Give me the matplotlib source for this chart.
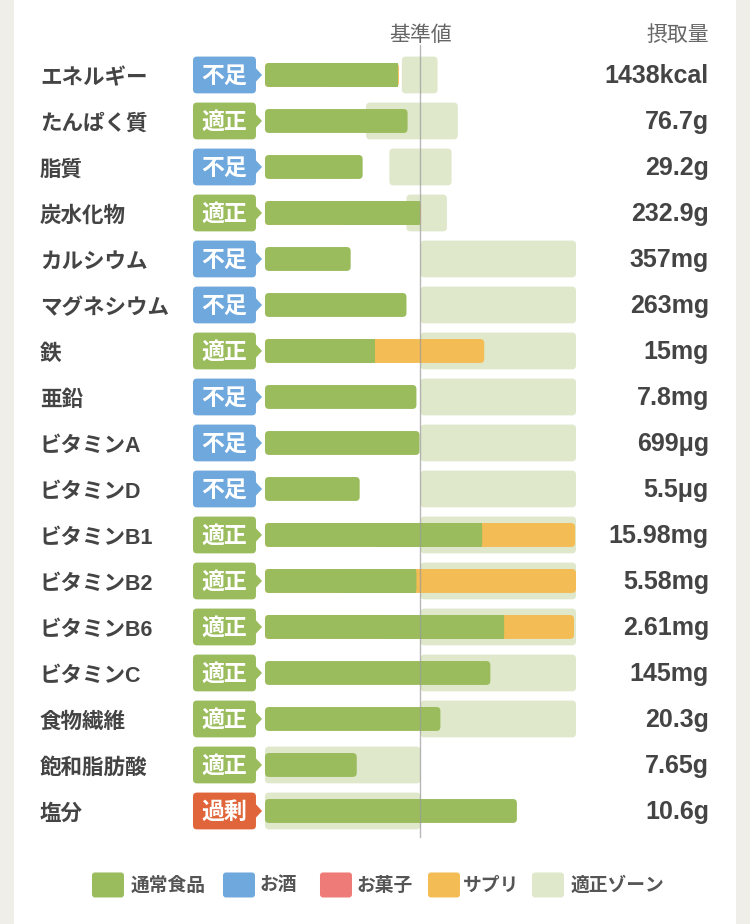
import matplotlib
matplotlib.use('Agg')
import matplotlib.pyplot as plt
from matplotlib.patches import FancyBboxPatch, Rectangle, Polygon

plt.rcParams['font.family'] = ['Noto Sans CJK JP', 'DejaVu Sans']

# --- data (percent of the reference value, 基準値 = 100) ---
nutrients = ['エネルギー', 'たんぱく質', '脂質', '炭水化物', 'カルシウム', 'マグネシウム',
             '鉄', '亜鉛', 'ビタミンA', 'ビタミンD', 'ビタミンB1', 'ビタミンB2',
             'ビタミンB6', 'ビタミンC', '食物繊維', '飽和脂肪酸', '塩分']
status = ['不足', '適正', '不足', '適正', '不足', '不足', '適正', '不足', '不足', '不足',
          '適正', '適正', '適正', '適正', '適正', '適正', '過剰']
food = [85.3, 91.7, 62.8, 99.4, 55.1, 91.0, 70.5, 97.4, 99.4, 60.9,
        139.7, 97.4, 153.8, 144.9, 112.8, 59.0, 162.0]
supplement = [0.8, 0, 0, 0.8, 0, 0, 70.5, 0, 0, 0,
              59.7, 102.6, 44.9, 0, 0, 0, 0]
zone_low = [88, 65, 80, 91, 100, 100, 100, 100, 100, 100,
            100, 100, 100, 100, 100, 0, 0]
zone_high = [111, 124, 120, 117, 200, 200, 200, 200, 200, 200,
             200, 200, 200, 200, 200, 100, 100]
intake = ['1438kcal', '76.7g', '29.2g', '232.9g', '357mg', '263mg', '15mg', '7.8mg',
          '699μg', '5.5μg', '15.98mg', '5.58mg', '2.61mg', '145mg', '20.3g',
          '7.65g', '10.6g']

legend_labels = ['通常食品', 'お酒', 'お菓子', 'サプリ', '適正ゾーン']

GREEN = '#9bbc5d'
ZONE = '#dfe8cb'
BLUE = '#6fa8dc'
RED = '#ee7b78'
ORANGE = '#f4bc54'
OVER = '#e0653a'
TEXT = '#444444'
status_color = {'不足': BLUE, '適正': GREEN, '過剰': OVER}
legend_colors = [GREEN, BLUE, RED, ORANGE, ZONE]

fig = plt.figure(figsize=(7.5, 9.24), dpi=100)
fig.patch.set_facecolor('#f0eee8')
fig.add_artist(Rectangle((14 / 750, 0), 722 / 750, 1, transform=fig.transFigure,
                         fc='white', ec='none', zorder=0))

ax = fig.add_axes([0, 0, 1, 1])
ax.set_xlim(-170.4, 311.9)
ax.set_ylim(18.457, -1.630)
ax.axis('off')
ax.patch.set_alpha(0)

PX_X = 750 / (311.9 + 170.4)
PX_Y = 46.0


def rbox(x0, x1, yc, h, color, r_px=4, z=1):
    p = FancyBboxPatch((x0, yc - h / 2), x1 - x0, h,
                       boxstyle='round,pad=0,rounding_size=%f' % (r_px / PX_X),
                       mutation_aspect=PX_X / PX_Y, fc=color, ec='none', zorder=z)
    ax.add_patch(p)


for i, name in enumerate(nutrients):
    y = i
    # zone
    rbox(zone_low[i], zone_high[i], y, 0.80, ZONE, r_px=4, z=1)
    # bars
    total = min(food[i] + supplement[i], 200)
    if supplement[i] > 0:
        rbox(0, total, y, 0.52, ORANGE, r_px=4, z=3)
        rbox(0, food[i], y, 0.52, GREEN, r_px=4, z=4)
        ax.add_patch(Rectangle((food[i] / 2, y - 0.26), food[i] / 2, 0.52,
                               fc=GREEN, ec='none', zorder=4))
    else:
        rbox(0, food[i], y, 0.52, GREEN, r_px=4, z=4)
    # badge
    c = status_color[status[i]]
    rbox(-46.3, -5.8, y, 0.80, c, r_px=4, z=2)
    ax.add_patch(Polygon([(-6.5, y - 0.17), (-1.9, y), (-6.5, y + 0.17)],
                         closed=True, fc=c, ec='none', zorder=2))
    ax.text(-26.4, y + 0.02, status[i], ha='center', va='center', color='white',
            fontsize=16.5, fontweight='bold', zorder=5)
    ax.text(-144.7, y + 0.08, name, ha='left', va='center', color=TEXT,
            fontsize=15.5, fontweight='bold',
            family=['Liberation Sans', 'Noto Sans CJK JP'])
    ax.text(285.5, y + 0.02, intake[i], ha='right', va='center', color=TEXT,
            fontsize=18, fontweight='bold',
            family=['Liberation Sans', 'DejaVu Sans'])

# reference line
ax.plot([100, 100], [-0.65, 16.57], color='#999999', lw=1, alpha=0.7, zorder=6)

ax.text(100, -0.87, '基準値', ha='center', va='center', color='#666666', fontsize=15)
ax.text(285.5, -0.87, '摂取量', ha='right', va='center', color='#666666', fontsize=15)

# legend
box_px = [92, 223, 320, 428, 532]
text_px = [131, 260, 357, 463, 571]
ly = (885 - 75) / PX_Y
for bx, tx, lab, col in zip(box_px, text_px, legend_labels, legend_colors):
    x0 = (bx - 265) / PX_X
    rbox(x0, x0 + 32 / PX_X, ly, 25 / PX_Y, col, r_px=3, z=2)
    ax.text((tx - 265) / PX_X, ly, lab, ha='left', va='center', color='#555555',
            fontsize=13.5, fontweight='bold')

fig.savefig('out.png', dpi=100, facecolor=fig.get_facecolor())
